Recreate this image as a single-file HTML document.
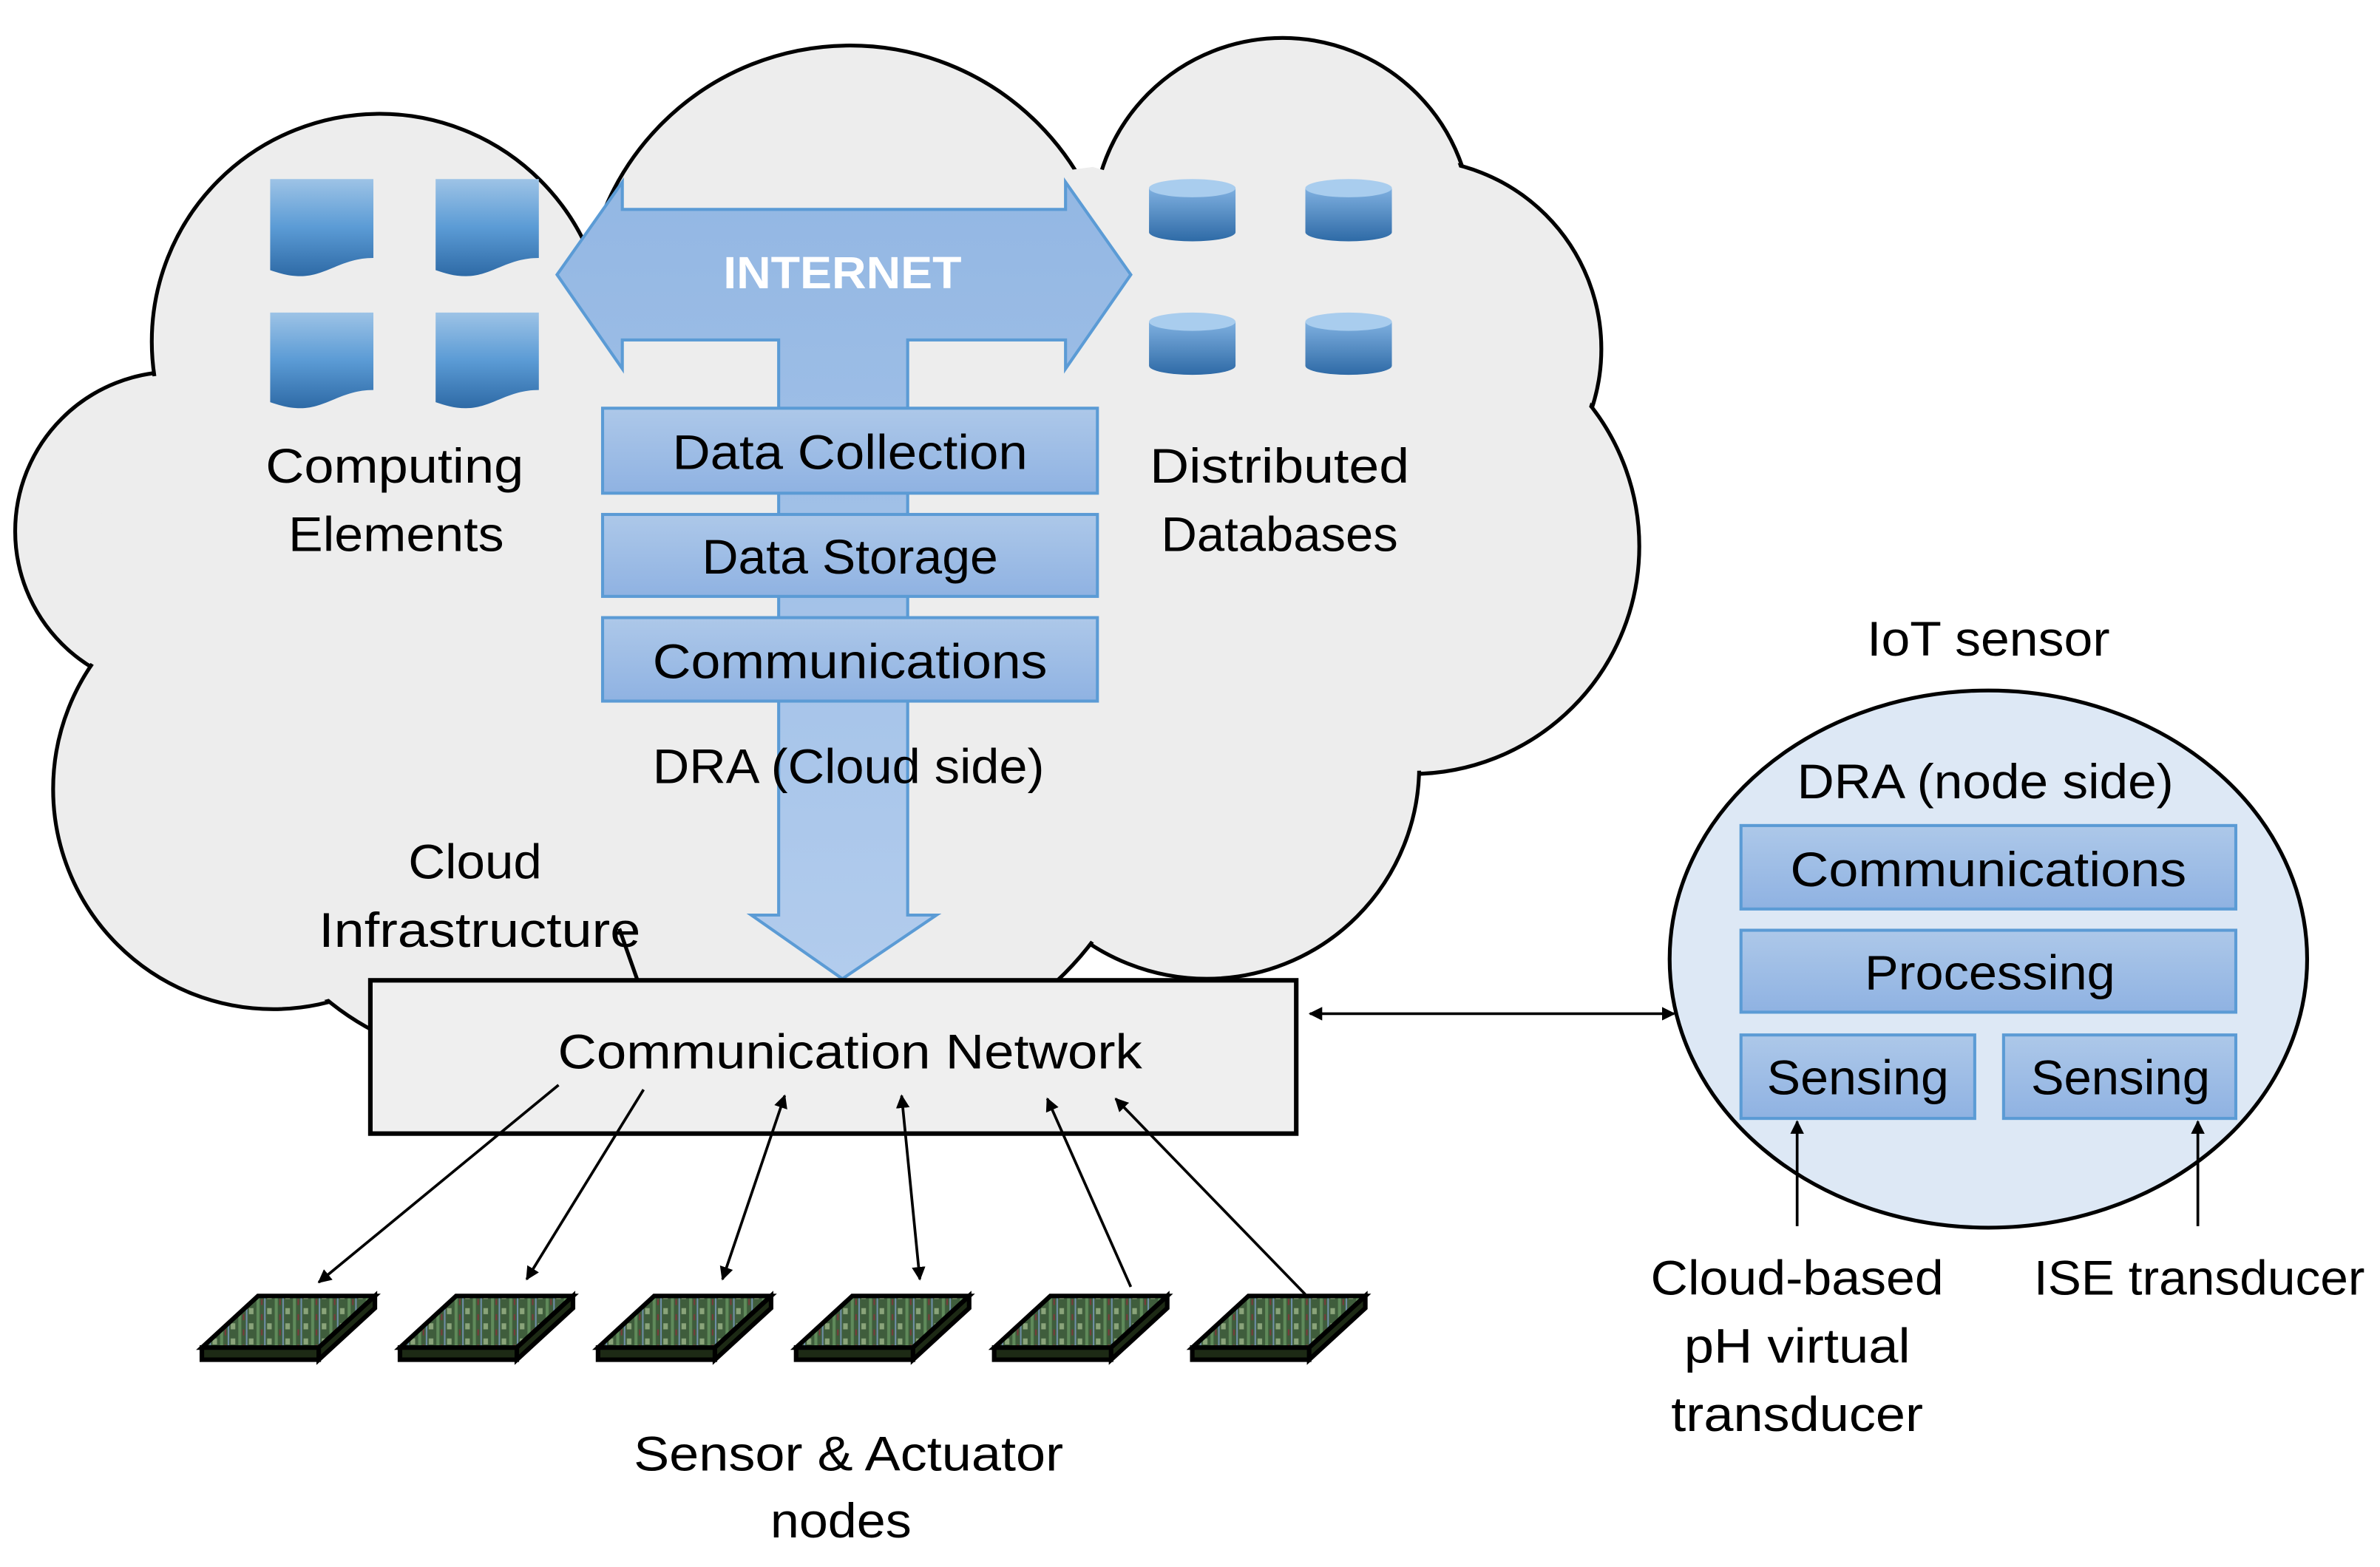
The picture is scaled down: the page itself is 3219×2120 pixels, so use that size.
<!DOCTYPE html>
<html><head><meta charset="utf-8"><style>html,body{margin:0;padding:0;background:#fff}svg{display:block}text{font-family:"Liberation Sans",sans-serif;fill:#000}</style></head>
<body>
<svg width="3219" height="2120" viewBox="0 0 1568 1032.6" preserveAspectRatio="none" xmlns="http://www.w3.org/2000/svg">
<defs>
<linearGradient id="doc" x1="0" y1="0" x2="0" y2="1"><stop offset="0" stop-color="#9dc3e6"/><stop offset="0.5" stop-color="#5b9bd5"/><stop offset="1" stop-color="#2e6aa6"/></linearGradient>
<linearGradient id="cyl" x1="0" y1="0" x2="0" y2="1"><stop offset="0" stop-color="#7fb0e0"/><stop offset="1" stop-color="#2e6aa6"/></linearGradient>
<linearGradient id="box" x1="0" y1="0" x2="0" y2="1"><stop offset="0" stop-color="#adc8e9"/><stop offset="1" stop-color="#8fb2e2"/></linearGradient>
<linearGradient id="arr" x1="0" y1="0" x2="0" y2="1"><stop offset="0" stop-color="#93b7e3"/><stop offset="1" stop-color="#b2cced"/></linearGradient>
<marker id="ah" viewBox="0 0 10 10" refX="9" refY="5" markerWidth="5" markerHeight="5" orient="auto-start-reverse"><path d="M0,0 L10,5 L0,10 z" fill="#000"/></marker>
<pattern id="pcb" width="12" height="10" patternUnits="userSpaceOnUse"><rect width="12" height="10" fill="#3f5d3c"/><rect x="1" width="2" height="10" fill="#5f8a5a"/><rect x="6" width="1" height="10" fill="#6f8fa8"/><rect x="8" y="2" width="3" height="4" fill="#8aa47a"/><rect x="4" y="6" width="1" height="4" fill="#7a3a3a"/></pattern>
</defs>
<g stroke="#000" stroke-width="2.5" fill="#ededed">
<circle cx="115" cy="350" r="105"/><circle cx="180" cy="520" r="145"/><circle cx="330" cy="520" r="180"/>
<circle cx="250" cy="225" r="150"/><circle cx="560" cy="205" r="175"/><circle cx="845" cy="150" r="125"/>
<circle cx="930" cy="230" r="125"/><circle cx="930" cy="360" r="150"/><circle cx="795" cy="505" r="140"/><circle cx="560" cy="500" r="200"/>
</g>
<g fill="#ededed">
<circle cx="115" cy="350" r="103"/><circle cx="180" cy="520" r="143"/><circle cx="330" cy="520" r="178"/>
<circle cx="250" cy="225" r="148"/><circle cx="560" cy="205" r="173"/><circle cx="845" cy="150" r="123"/>
<circle cx="930" cy="230" r="123"/><circle cx="930" cy="360" r="148"/><circle cx="795" cy="505" r="138"/><circle cx="560" cy="500" r="198"/>
<polygon points="120,250 420,150 720,110 960,180 1040,300 1050,420 920,500 880,590 700,620 250,650 80,560 90,450 60,350"/>
</g>
<!-- docs -->
<g fill="url(#doc)">
<path d="M178,118 H246 V170 C225,170 215,182 198,182 C190,182 184,180 178,178 Z"/>
<path d="M287,118 H355 V170 C334,170 324,182 307,182 C299,182 293,180 287,178 Z"/>
<path d="M178,206 H246 V257 C225,257 215,269 198,269 C190,269 184,267 178,265 Z"/>
<path d="M287,206 H355 V257 C334,257 324,269 307,269 C299,269 293,267 287,265 Z"/>
</g>
<!-- cylinders -->
<g fill="url(#cyl)">
<path d="M757,124 V153 A28.5,6 0 0 0 814,153 V124 Z"/><ellipse cx="785.5" cy="124" rx="28.5" ry="6" fill="#a9cdee"/>
<path d="M860,124 V153 A28.5,6 0 0 0 917,153 V124 Z"/><ellipse cx="888.5" cy="124" rx="28.5" ry="6" fill="#a9cdee"/>
<path d="M757,212 V241 A28.5,6 0 0 0 814,241 V212 Z"/><ellipse cx="785.5" cy="212" rx="28.5" ry="6" fill="#a9cdee"/>
<path d="M860,212 V241 A28.5,6 0 0 0 917,241 V212 Z"/><ellipse cx="888.5" cy="212" rx="28.5" ry="6" fill="#a9cdee"/>
</g>
<!-- internet arrow -->
<path d="M367,181 L410,120 V138 H702 V120 L745,181 L702,243 V224 H598 V603 H617 L555,645 L495,603 H513 V224 H410 V243 Z" fill="url(#arr)" stroke="#5b9bd5" stroke-width="2"/>
<text x="555" y="190" font-size="30" font-weight="bold" text-anchor="middle" style="fill:#fff" textLength="157" lengthAdjust="spacingAndGlyphs">INTERNET</text>
<g fill="url(#box)" stroke="#5b9bd5" stroke-width="2">
<rect x="397" y="269" width="326" height="56"/><rect x="397" y="339" width="326" height="54"/><rect x="397" y="407" width="326" height="55"/>
</g>
<g font-size="32" text-anchor="middle">
<text x="560" y="309" textLength="234" lengthAdjust="spacingAndGlyphs">Data Collection</text>
<text x="560" y="378" textLength="195" lengthAdjust="spacingAndGlyphs">Data Storage</text>
<text x="560" y="447" textLength="260" lengthAdjust="spacingAndGlyphs">Communications</text>
<text x="260" y="318" textLength="170" lengthAdjust="spacingAndGlyphs">Computing</text>
<text x="261" y="363" textLength="142" lengthAdjust="spacingAndGlyphs">Elements</text>
<text x="843" y="318" textLength="171" lengthAdjust="spacingAndGlyphs">Distributed</text>
<text x="843" y="363" textLength="156" lengthAdjust="spacingAndGlyphs">Databases</text>
<text x="559" y="516" textLength="258" lengthAdjust="spacingAndGlyphs">DRA (Cloud side)</text>
<text x="313" y="579" textLength="88" lengthAdjust="spacingAndGlyphs">Cloud</text>
<text x="316" y="624" textLength="212" lengthAdjust="spacingAndGlyphs">Infrastructure</text>
</g>
<line x1="408" y1="612" x2="420" y2="646" stroke="#000" stroke-width="2.5"/>
<!-- comm network -->
<rect x="244" y="646" width="610" height="101" fill="#efefef" stroke="#000" stroke-width="3"/>
<text x="560" y="704" font-size="32" text-anchor="middle" textLength="385" lengthAdjust="spacingAndGlyphs">Communication Network</text>
<g stroke="#000" stroke-width="1.8" fill="none">
<line x1="863" y1="668" x2="1103" y2="668" marker-start="url(#ah)" marker-end="url(#ah)"/>
<line x1="368" y1="715" x2="210" y2="845" marker-end="url(#ah)"/>
<line x1="424" y1="718" x2="347" y2="843" marker-end="url(#ah)"/>
<line x1="517" y1="722" x2="476" y2="843" marker-start="url(#ah)" marker-end="url(#ah)"/>
<line x1="594" y1="722" x2="606" y2="843" marker-start="url(#ah)" marker-end="url(#ah)"/>
<line x1="745" y1="848" x2="690" y2="724" marker-end="url(#ah)"/>
<line x1="860" y1="853" x2="735" y2="724" marker-end="url(#ah)"/>
</g>
<!-- chips -->
<g stroke="#000" stroke-width="3">
<g><path d="M170,854 H247 L210,888 H133 Z" fill="url(#pcb)"/><path d="M133,888 H210 V896 H133 Z M210,888 L247,854 V862 L210,896 Z" fill="#1d2a15"/></g>
<g transform="translate(130.5,0)"><path d="M170,854 H247 L210,888 H133 Z" fill="url(#pcb)"/><path d="M133,888 H210 V896 H133 Z M210,888 L247,854 V862 L210,896 Z" fill="#1d2a15"/></g>
<g transform="translate(261,0)"><path d="M170,854 H247 L210,888 H133 Z" fill="url(#pcb)"/><path d="M133,888 H210 V896 H133 Z M210,888 L247,854 V862 L210,896 Z" fill="#1d2a15"/></g>
<g transform="translate(391.5,0)"><path d="M170,854 H247 L210,888 H133 Z" fill="url(#pcb)"/><path d="M133,888 H210 V896 H133 Z M210,888 L247,854 V862 L210,896 Z" fill="#1d2a15"/></g>
<g transform="translate(522,0)"><path d="M170,854 H247 L210,888 H133 Z" fill="url(#pcb)"/><path d="M133,888 H210 V896 H133 Z M210,888 L247,854 V862 L210,896 Z" fill="#1d2a15"/></g>
<g transform="translate(652.5,0)"><path d="M170,854 H247 L210,888 H133 Z" fill="url(#pcb)"/><path d="M133,888 H210 V896 H133 Z M210,888 L247,854 V862 L210,896 Z" fill="#1d2a15"/></g>
</g>
<text x="559" y="969" font-size="32" text-anchor="middle" textLength="283" lengthAdjust="spacingAndGlyphs">Sensor &amp; Actuator</text>
<text x="554" y="1013" font-size="32" text-anchor="middle" textLength="93" lengthAdjust="spacingAndGlyphs">nodes</text>
<!-- IoT sensor -->
<ellipse cx="1310" cy="632" rx="210" ry="177" fill="#dde8f5" stroke="#000" stroke-width="2.5"/>
<g fill="url(#box)" stroke="#5b9bd5" stroke-width="2">
<rect x="1147" y="544" width="326" height="55"/><rect x="1147" y="613" width="326" height="54"/>
<rect x="1147" y="682" width="154" height="55"/><rect x="1320" y="682" width="153" height="55"/>
</g>
<g font-size="32" text-anchor="middle">
<text x="1310" y="432" textLength="160" lengthAdjust="spacingAndGlyphs">IoT sensor</text>
<text x="1308" y="526" textLength="248" lengthAdjust="spacingAndGlyphs">DRA (node side)</text>
<text x="1310" y="584" textLength="261" lengthAdjust="spacingAndGlyphs">Communications</text>
<text x="1311" y="652" textLength="165" lengthAdjust="spacingAndGlyphs">Processing</text>
<text x="1224" y="721" textLength="120" lengthAdjust="spacingAndGlyphs">Sensing</text>
<text x="1397" y="721" textLength="118" lengthAdjust="spacingAndGlyphs">Sensing</text>
<text x="1184" y="853" textLength="193" lengthAdjust="spacingAndGlyphs">Cloud-based</text>
<text x="1184" y="898" textLength="149" lengthAdjust="spacingAndGlyphs">pH virtual</text>
<text x="1184" y="943" textLength="166" lengthAdjust="spacingAndGlyphs">transducer</text>
<text x="1449" y="853" textLength="218" lengthAdjust="spacingAndGlyphs">ISE transducer</text>
</g>
<g stroke="#000" stroke-width="1.8">
<line x1="1184" y1="808" x2="1184" y2="739" marker-end="url(#ah)"/>
<line x1="1448" y1="808" x2="1448" y2="739" marker-end="url(#ah)"/>
</g>
</svg>
</body></html>
